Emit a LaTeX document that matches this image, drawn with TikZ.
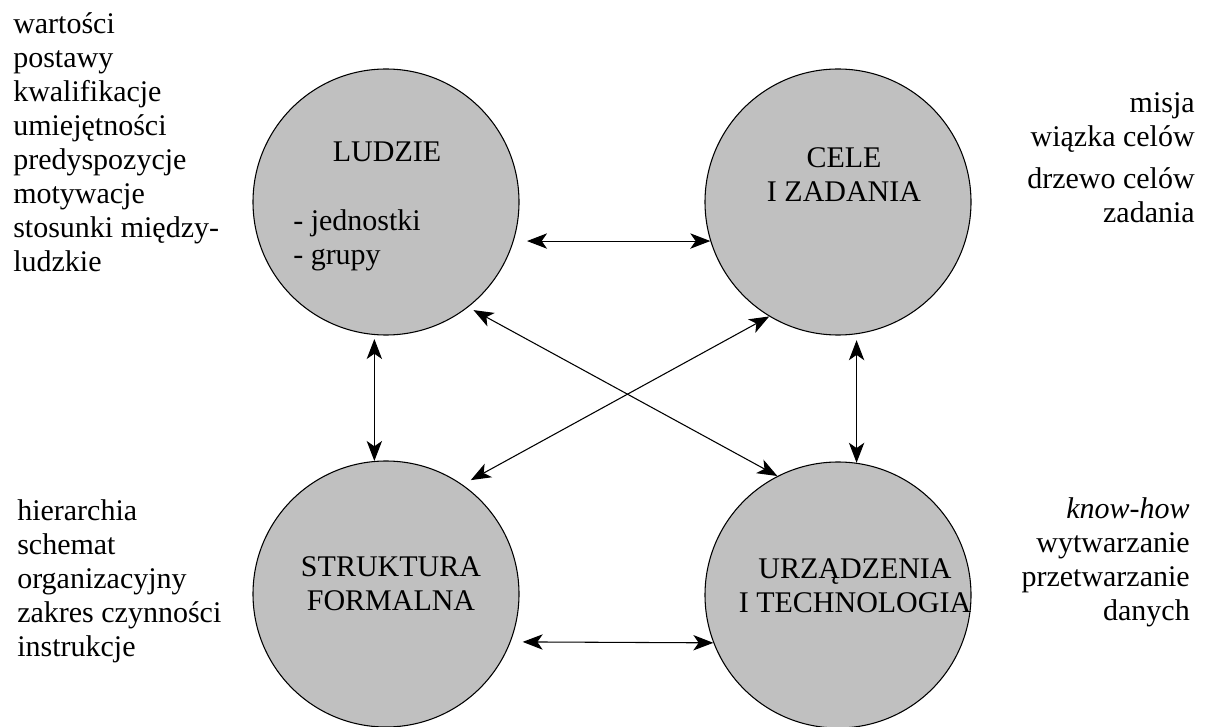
\documentclass[tikz,border=0pt]{standalone}
\usepackage{fontspec}
\setmainfont{Liberation Serif}
\usetikzlibrary{arrows.meta}
\definecolor{circlegray}{RGB}{192,192,192}

\begin{document}
\begin{tikzpicture}[x=0.75pt,y=0.75pt,yscale=-1,xscale=1,
  disc/.style={circle,draw=black,fill=circlegray,line width=0.8pt,minimum size=199.5pt,inner sep=0pt},
  biarrow/.style={{Stealth[length=15pt,width=11.5pt,inset=4pt]}-{Stealth[length=15pt,width=11.5pt,inset=4pt]},line width=0.8pt},
  txt/.style={inner sep=0pt,font=\fontsize{22.5}{25.5}\selectfont}]
\useasboundingbox (0,0) rectangle (1207,727);

%Shape: Circle [ludzie]
\node [disc] (ludzie) at (386,202) {};
%Shape: Circle [cele]
\node [disc] (cele) at (838,202) {};
%Shape: Circle [struktura]
\node [disc] (struktura) at (386,594) {};
%Shape: Circle [urzadzenia]
\node [disc] (urzadzenia) at (838,595) {};

%Straight Lines [ludzie - cele]
\draw [biarrow, shorten <=10pt] (ludzie.-17.5) -- (cele.197.5);
%Straight Lines [struktura - urzadzenia]
\draw [biarrow, shorten <=9pt] (struktura.-21.6) -- (urzadzenia.201.2);
%Straight Lines [ludzie - struktura]
\draw [biarrow, shorten <=3pt] (ludzie.-95.2) -- (struktura.95.2);
%Straight Lines [cele - urzadzenia]
\draw [biarrow, shorten <=4.5pt] (cele.-82.2) -- (urzadzenia.82.2);
%Straight Lines [ludzie - urzadzenia]
\draw [biarrow, shorten <=4.5pt] (ludzie.-52.9) -- (urzadzenia.117.7);
%Straight Lines [cele - struktura]
\draw [biarrow, shorten >=7pt] (cele.-121.3) -- (struktura.55.3);

% Text Node
\node [txt, anchor=base] (ludzietitle) at (387,162) {LUDZIE};
% Text Node
\node [txt, anchor=base west, align=left] (ludzieitems) at (293,265) {- jednostki\\- grupy};
% Text Node
\node [txt, anchor=base, align=center] (celetitle) at (844,202) {CELE\\I ZADANIA};
% Text Node
\node [txt, anchor=base, align=center] (strukturatitle) at (391,610) {STRUKTURA\\FORMALNA};
% Text Node
\node [txt, anchor=base, align=center] (urzadzeniatitle) at (855,612) {URZĄDZENIA\\I TECHNOLOGIA};

% Text Node
\node [txt, anchor=base west, align=left] (ludzienotes) at (13,272) {wartości\\postawy\\kwalifikacje\\umiejętności\\predyspozycje\\motywacje\\stosunki między-\\ludzkie};
% Text Node
\node [txt, anchor=base east, align=right] (celenotes) at (1195,223) {misja\\wiązka celów\\[6pt]drzewo celów\\zadania};
% Text Node
\node [txt, anchor=base west, align=left] (strukturanotes) at (17,656) {hierarchia\\schemat\\organizacyjny\\zakres czynności\\instrukcje};
% Text Node
\node [txt, anchor=base east, align=right] (urzadzenianotes) at (1190,620) {\textit{know-how}\\wytwarzanie\\przetwarzanie\\danych};

\end{tikzpicture}
\end{document}
